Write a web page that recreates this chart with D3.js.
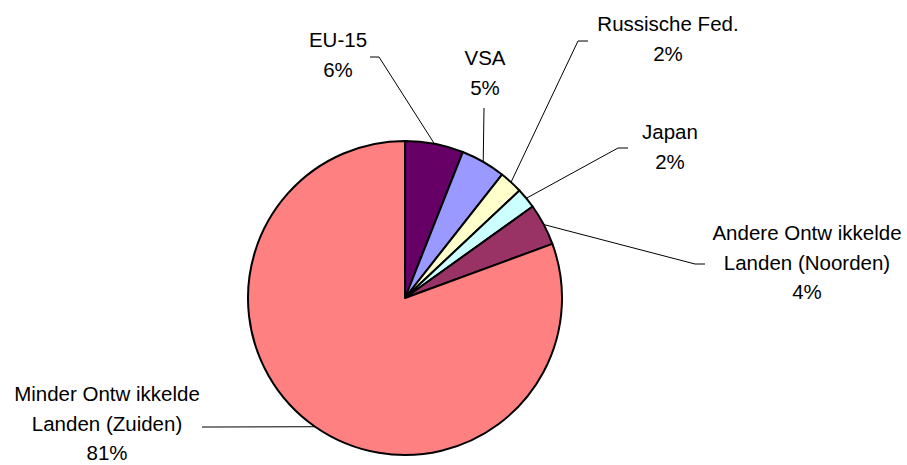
<!DOCTYPE html>
<html>
<head>
<meta charset="utf-8">
<script src="https://cdn.jsdelivr.net/npm/d3@7"></script>
<style>
	body { margin: 0; background: #fff; }
	text { font-family: "Liberation Sans", Arial, sans-serif; font-size: 20.5px; fill: #000; }
</style>
</head>
<body>
<div id="visDiv"></div>
<script>
// data
var categories = ['EU-15', 'VSA', 'Russische Fed.', 'Japan', 'Andere Ontw ikkelde Landen (Noorden)', 'Minder Ontw ikkelde Landen (Zuiden)'];
var nameLines = [['EU-15'], ['VSA'], ['Russische Fed.'], ['Japan'], ['Andere Ontw ikkelde', 'Landen (Noorden)'], ['Minder Ontw ikkelde', 'Landen (Zuiden)']];
var shares = [6.0, 4.6, 2.4, 2.1, 4.3, 80.6];
var pctLabels = ['6%', '5%', '2%', '2%', '4%', '81%'];
var colors = ['#660066', '#9999ff', '#ffffcc', '#ccffff', '#993366', '#ff8080'];

// label placement (x = text centre, y = first baseline, elbow of leader line, end of short horizontal)
var labelLayout = [
	{x: 338, y: 47, ex: 379, ey: 57, hx: 370},
	{x: 485, y: 65, ex: 484, ey: 108, hx: 484},
	{x: 668, y: 31, ex: 578, ey: 41, hx: 588},
	{x: 670, y: 139, ex: 618, ey: 148, hx: 628},
	{x: 807, y: 240, ex: 695, ey: 264, hx: 705},
	{x: 107, y: 401, ex: 215, ey: 427, hx: 202}
];

var w = 907, h = 465,
	cx = 405, cy = 298, r = 157,
	lineH = 29.5;

var svg = d3.select('#visDiv')
	.append('svg')
		.attr('width', w)
		.attr('height', h);

var pie = d3.pie().sort(null).value(function(d) { return d; });
var arcs = pie(shares);
var arc = d3.arc().innerRadius(0).outerRadius(r);

var g = svg.append('g')
	.attr('transform', 'translate(' + cx + ',' + cy + ')');

g.selectAll('path')
	.data(arcs)
	.enter()
	.append('path')
		.attr('d', arc)
		.style('fill', function(d, i) { return colors[i]; })
		.style('stroke', '#000')
		.style('stroke-width', 2)
		.style('stroke-linejoin', 'round');

// leader lines from slice edge to label
svg.selectAll('polyline.leader')
	.data(arcs)
	.enter()
	.append('polyline')
		.attr('class', 'leader')
		.attr('points', function(d, i) {
			var a = (d.startAngle + d.endAngle) / 2,
				L = labelLayout[i];
			var px = cx + r * Math.sin(a), py = cy - r * Math.cos(a);
			return px + ',' + py + ' ' + L.ex + ',' + L.ey + ' ' + L.hx + ',' + L.ey;
		})
		.style('fill', 'none')
		.style('stroke', '#000')
		.style('stroke-width', 1);

// labels
var labels = svg.selectAll('text.lbl')
	.data(categories)
	.enter()
	.append('text')
		.attr('class', 'lbl')
		.attr('text-anchor', 'middle');

labels.each(function(d, i) {
	var t = d3.select(this), L = labelLayout[i];
	var lines = nameLines[i].concat([pctLabels[i]]);
	lines.forEach(function(s, j) {
		t.append('tspan')
			.attr('x', L.x)
			.attr('y', L.y + j * lineH)
			.text(s);
	});
});
</script>
</body>
</html>
